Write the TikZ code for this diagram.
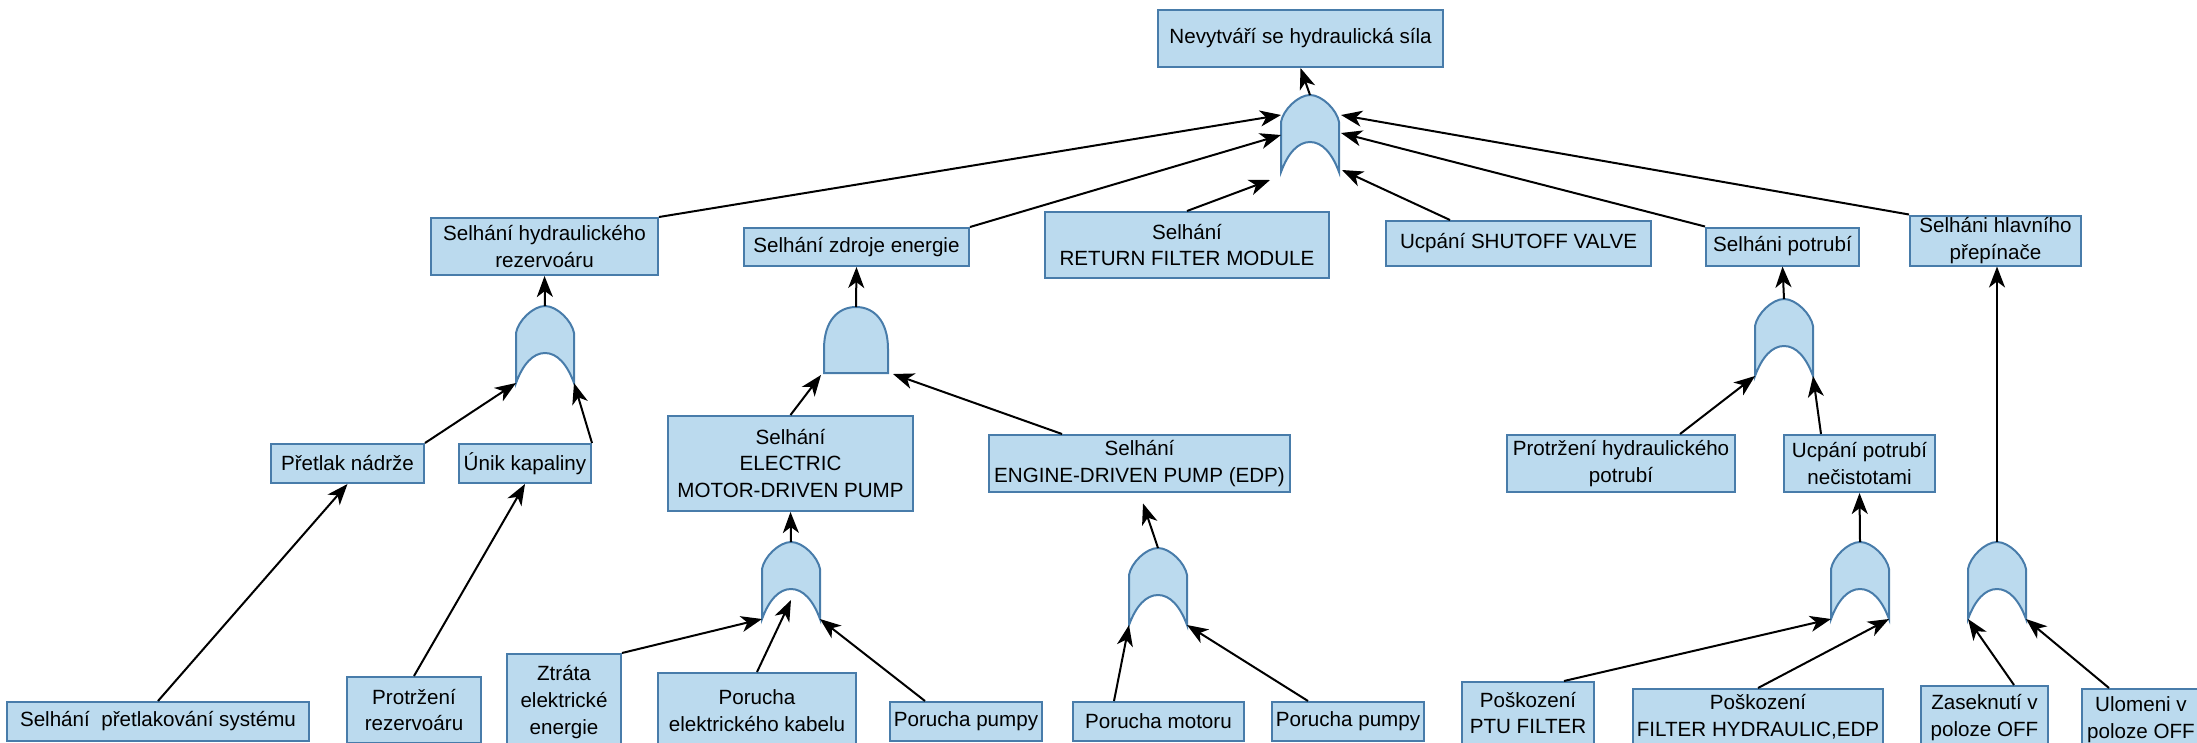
\documentclass[tikz,border=0pt]{standalone}
\usepackage{fontspec}
\setmainfont{Liberation Sans}
\usetikzlibrary{arrows.meta}
\definecolor{boxfill}{RGB}{187,218,238}
\definecolor{boxline}{RGB}{72,124,170}
\tikzset{
  box/.style={draw=boxline, fill=boxfill, line width=2pt, inner sep=0pt, align=center,
    font=\fontsize{20.6}{26.7}\selectfont},
  gate/.style={draw=boxline, fill=boxfill, line width=2pt},
  conn/.style={line width=2pt, -{Stealth[length=21pt,width=16pt,inset=6pt]}},
}
\newcommand\ORgate[3]{%
  \begin{scope}[shift={(#2,#3)}]
    \draw[gate] (-29,77) -- (-29,27) .. controls (-27,15) and (-12,0) .. (0,0)
      .. controls (12,0) and (27,15) .. (29,27) -- (29,77)
      .. controls (22,58) and (12,47) .. (0,47)
      .. controls (-12,47) and (-22,58) .. (-29,77) -- cycle;
    \coordinate (#1t) at (0,0);
    \coordinate (#1l) at (-29,77);
    \coordinate (#1r) at (29,77);
    \coordinate (#1m) at (0,58);
  \end{scope}}
\newcommand\ANDgate[3]{%
  \begin{scope}[shift={(#2,#3)}]
    \draw[gate] (-32,66) -- (-32,42) .. controls (-32,14) and (-18,0) .. (0,0)
      .. controls (18,0) and (32,14) .. (32,42) -- (32,66) -- cycle;
    \coordinate (#1t) at (0,0);
    \coordinate (#1l) at (-35,68);
    \coordinate (#1r) at (37,67);
  \end{scope}}
\begin{document}
\begin{tikzpicture}[x=1pt,y=-1pt]
\useasboundingbox (0,0) rectangle (2197,742);
\clip (0,0) rectangle (2197,742);

% ---- boxes
\node[box, minimum width=285pt, minimum height=57pt] (top) at (1300.5,38.5) {Nevytváří se hydraulická síla};
\node[box, minimum width=227pt, minimum height=57pt] (b1) at (544.5,246.5) {Selhání hydraulického\\rezervoáru};
\node[box, minimum width=225pt, minimum height=38pt] (b2) at (856.5,247) {Selhání zdroje energie};
\node[box, minimum width=284pt, minimum height=66pt] (b3) at (1187,245) {Selhání\\RETURN FILTER MODULE};
\node[box, minimum width=265pt, minimum height=45pt] (b4) at (1518.5,243.5) {Ucpání SHUTOFF VALVE};
\node[box, minimum width=153pt, minimum height=38pt] (b5) at (1782.5,246.5) {Selháni potrubí};
\node[box, minimum width=171pt, minimum height=50pt] (b6) at (1995.5,240.5) {Selháni hlavního\\přepínače};

\node[box, minimum width=153pt, minimum height=39pt] (b11) at (347.5,463.5) {Přetlak nádrže};
\node[box, minimum width=132pt, minimum height=39pt] (b12) at (525,463.5) {Únik kapaliny};
\node[box, minimum width=245pt, minimum height=95pt] (b21) at (790.5,463.5) {Selhání\\ELECTRIC\\MOTOR-DRIVEN PUMP};
\node[box, minimum width=301pt, minimum height=57pt] (b22) at (1139.5,463.5) {Selhání\\ENGINE-DRIVEN PUMP (EDP)};
\node[box, minimum width=228pt, minimum height=57pt] (b51) at (1621,463.5) {Protržení hydraulického\\potrubí};
\node[box, minimum width=151pt, minimum height=57pt] (b52) at (1859.5,463.5) {Ucpání potrubí\\nečistotami};

\node[box, minimum width=302pt, minimum height=39pt] (c1) at (158,721.5) {Selhání\ \ přetlakování systému};
\node[box, minimum width=134pt, minimum height=66pt] (c2) at (414,710) {Protržení\\rezervoáru};
\node[box, minimum width=114pt, minimum height=96pt] (c3) at (564,702) {Ztráta\\elektrické\\energie};
\node[box, minimum width=198pt, minimum height=75pt] (c4) at (757,710.5) {Porucha\\elektrického kabelu};
\node[box, minimum width=152pt, minimum height=39pt] (c5) at (966,721.5) {Porucha pumpy};
\node[box, minimum width=171pt, minimum height=39pt] (c6) at (1158.5,721.5) {Porucha motoru};
\node[box, minimum width=152pt, minimum height=39pt] (c7) at (1348,721.5) {Porucha pumpy};
\node[box, minimum width=132pt, minimum height=62pt] (c8) at (1528,713) {Poškození\\PTU FILTER};
\node[box, minimum width=250pt, minimum height=56pt] (c9) at (1758,717) {Poškození\\FILTER HYDRAULIC,EDP};
\node[box, minimum width=127pt, minimum height=63pt] (c10) at (1984.5,717.5) {Zaseknutí v\\poloze OFF};
\node[box, minimum width=118pt, minimum height=61pt] (c11) at (2141,719.5) {Ulomeni v\\poloze OFF};

% ---- gates
\ORgate{g0}{1310}{95}
\ORgate{g1}{545}{306}
\ANDgate{g2}{856}{307}
\ORgate{g5}{1784}{299}
\ORgate{g21}{791}{542}
\ORgate{g22}{1158}{548}
\ORgate{g52}{1860}{542}
\ORgate{g6}{1997}{542}

\coordinate (g0a) at (1281,115);
\coordinate (g0b) at (1281,135);
\coordinate (g0c) at (1270,180);
\coordinate (g0d) at (1342,170);
\coordinate (g0e) at (1341,133);
\coordinate (g0f) at (1341,115);

% ---- connectors
\draw[conn] (g0t) -- (top.south);
\draw[conn] (b1.north east) -- (g0a);
\draw[conn] (b2.north east) -- (g0b);
\draw[conn] (b3.north) -- (g0c);
\draw[conn] ([xshift=65pt]b4.north west) -- (g0d);
\draw[conn] (b5.north west) -- (g0e);
\draw[conn] (b6.north west) -- (g0f);

\draw[conn] (g1t) -- (b1.south);
\draw[conn] (b11.north east) -- (g1l);
\draw[conn] (b12.north east) -- (g1r);
\draw[conn] (g2t) -- (b2.south);
\draw[conn] (b21.north) -- (g2l);
\draw[conn] ([xshift=74pt]b22.north west) -- (g2r);
\draw[conn] (g5t) -- (b5.south);
\draw[conn] ([xshift=-56pt]b51.north east) -- (g5l);
\draw[conn] ([xshift=38pt]b52.north west) -- (g5r);

\draw[conn] (c1.north) -- (b11.south);
\draw[conn] (c2.north) -- (b12.south);
\draw[conn] (g21t) -- (b21.south);
\draw[conn] (c3.north east) -- (g21l);
\draw[conn] (c4.north) -- (g21m);
\draw[conn] ([xshift=36pt]c5.north west) -- (g21r);
\draw[conn, shorten >=11pt] (g22t) -- (b22.south);
\draw[conn] ([xshift=42pt]c6.north west) -- (g22l);
\draw[conn] ([xshift=37pt]c7.north west) -- (g22r);
\draw[conn] (g52t) -- (b52.south);
\draw[conn] ([xshift=-31pt]c8.north east) -- (g52l);
\draw[conn] (c9.north) -- (g52r);
\draw[conn] (g6t) -- (g6t |- b6.south);
\draw[conn] ([xshift=94pt]c10.north west) -- (g6l);
\draw[conn] ([xshift=28pt]c11.north west) -- (g6r);
\end{tikzpicture}
\end{document}
